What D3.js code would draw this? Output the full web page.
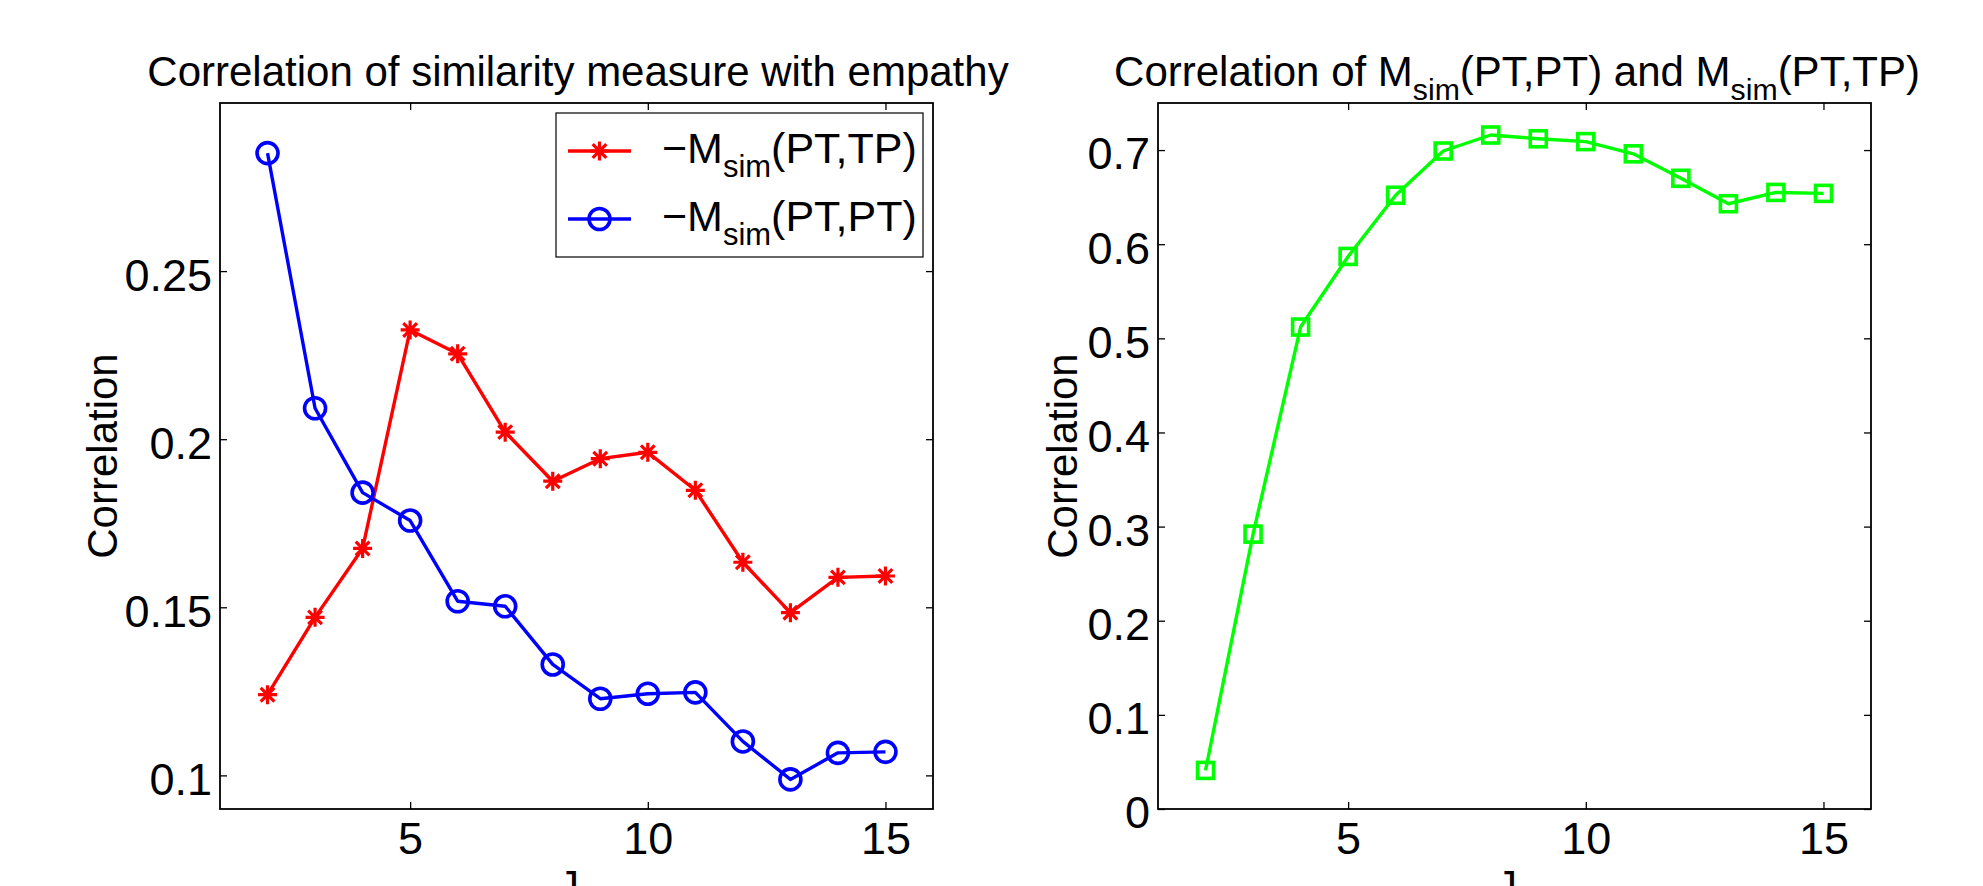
<!DOCTYPE html>
<html>
<head>
<meta charset="utf-8">
<script src="https://cdn.jsdelivr.net/npm/d3@7"></script>
<style>
body { margin: 0; background: #fff; }
svg text { font-family: "Liberation Sans", Arial, Helvetica, sans-serif; fill: #000; }
</style>
</head>
<body>
<svg id="fig" width="1983" height="886"></svg>
<script>
// J values (x axis) shared by both panels
var jValues = [2, 3, 4, 5, 6, 7, 8, 9, 10, 11, 12, 13, 14, 15];

// left panel: -M_sim(PT,TP) and -M_sim(PT,PT) correlation with empathy
var tpCorr = [0.124, 0.147, 0.1675, 0.2325, 0.2254, 0.2021, 0.1875, 0.1942, 0.1961, 0.1848, 0.1634, 0.1484, 0.1589, 0.1593];
var ptCorr = [0.2851, 0.2092, 0.1841, 0.1758, 0.1518, 0.1503, 0.133, 0.1228, 0.1243, 0.1247, 0.1101, 0.0988, 0.1067, 0.107];

// right panel: correlation of M_sim(PT,PT) and M_sim(PT,TP)
var crossCorr = [0.041, 0.292, 0.512, 0.587, 0.652, 0.699, 0.716, 0.712, 0.709, 0.696, 0.670, 0.643, 0.655, 0.654];

var xTicks = [5, 10, 15];
var leftYTicks = [0.1, 0.15, 0.2, 0.25];
var rightYTicks = [0, 0.1, 0.2, 0.3, 0.4, 0.5, 0.6, 0.7];

d3.select(window).on('load', init);

function init() {
    var svg = d3.select('#fig');
    svg.append('rect').attr('width', 1983).attr('height', 886).attr('fill', '#fff');

    var left = panel(svg, {
        x0: 220, x1: 933, y0: 103, y1: 809,
        xDomain: [1, 16], yDomain: [0.09, 0.3],
        yTicks: leftYTicks
    });
    var right = panel(svg, {
        x0: 1158, x1: 1871, y0: 103, y1: 809,
        xDomain: [1, 16], yDomain: [0, 0.75],
        yTicks: rightYTicks
    });

    // titles
    svg.append('text')
        .attr('x', 578).attr('y', 86)
        .attr('text-anchor', 'middle')
        .attr('font-size', 42)
        .text('Correlation of similarity measure with empathy');

    var t2 = svg.append('text')
        .attr('x', 1517).attr('y', 86)
        .attr('text-anchor', 'middle')
        .attr('font-size', 42);
    withSub(t2, ['Correlation of M', 'sim', '(PT,PT) and M', 'sim', '(PT,TP)']);

    // axis labels (the J sits partly below the figure edge, as in the source)
    [left, right].forEach(function (p, i) {
        svg.append('text')
            .attr('transform', 'translate(' + (i === 0 ? 117 : 1077) + ',' + ((p.y0 + p.y1) / 2) + ') rotate(-90)')
            .attr('text-anchor', 'middle')
            .attr('font-size', 42)
            .text('Correlation');
        svg.append('text')
            .attr('x', (p.x0 + p.x1) / 2 - 8).attr('y', 900)
            .attr('text-anchor', 'middle')
            .attr('font-size', 42)
            .text('J');
    });

    // series
    drawSeries(left, tpCorr, '#ff0000', 'star');
    drawSeries(left, ptCorr, '#0000ff', 'circle');
    drawSeries(right, crossCorr, '#00ff00', 'square');

    // legend (left panel)
    var lg = svg.append('g');
    lg.append('rect')
        .attr('x', 556).attr('y', 113).attr('width', 367).attr('height', 144)
        .attr('fill', '#fff').attr('stroke', '#000').attr('stroke-width', 1.2);
    var entries = [
        {label: ['\u2212M', 'sim', '(PT,TP)'], color: '#ff0000', shape: 'star', y: 151},
        {label: ['\u2212M', 'sim', '(PT,PT)'], color: '#0000ff', shape: 'circle', y: 219}
    ];
    entries.forEach(function (e) {
        lg.append('line')
            .attr('x1', 568).attr('x2', 631).attr('y1', e.y).attr('y2', e.y)
            .attr('stroke', e.color).attr('stroke-width', 3.4);
        marker(lg, 599.5, e.y, e.color, e.shape);
        var t = lg.append('text')
            .attr('x', 662).attr('y', e.y + 12)
            .attr('font-size', 43);
        withSub(t, e.label);
    });
}

function withSub(textSel, parts) {
    var big = +textSel.attr('font-size');
    parts.forEach(function (s, i) {
        var ts = textSel.append('tspan').text(s);
        if (i % 2 === 1) {
            ts.attr('font-size', big * 0.72).attr('dy', 14);
        } else if (i > 0) {
            ts.attr('font-size', big).attr('dy', -14);
        }
    });
}

function panel(svg, o) {
    var x = d3.scaleLinear().domain(o.xDomain).range([o.x0, o.x1]);
    var y = d3.scaleLinear().domain(o.yDomain).range([o.y1, o.y0]);
    var g = svg.append('g');

    function styleAxis(a) {
        a.attr('font-size', 45)
            .attr('font-family', '"Liberation Sans", Arial, Helvetica, sans-serif');
        a.select('.domain').remove();
        a.selectAll('.tick line').attr('stroke', '#000').attr('stroke-width', 1.3);
    }

    g.append('g').attr('transform', 'translate(0,' + o.y1 + ')')
        .call(d3.axisBottom(x).tickValues(xTicks).tickSize(-7).tickPadding(13).tickFormat(d3.format('d')))
        .call(styleAxis)
        .selectAll('text').attr('dy', '0.71em');
    g.append('g').attr('transform', 'translate(0,' + o.y0 + ')')
        .call(d3.axisTop(x).tickValues(xTicks).tickSize(-7).tickFormat(''))
        .call(styleAxis);
    g.append('g').attr('transform', 'translate(' + o.x0 + ',0)')
        .call(d3.axisLeft(y).tickValues(o.yTicks).tickSize(-7).tickPadding(8).tickFormat(function (d) { return String(+d.toFixed(2)); }))
        .call(styleAxis)
        .selectAll('text').attr('dy', '0.42em');
    g.append('g').attr('transform', 'translate(' + o.x1 + ',0)')
        .call(d3.axisRight(y).tickValues(o.yTicks).tickSize(-7).tickFormat(''))
        .call(styleAxis);

    g.append('rect')
        .attr('x', o.x0).attr('y', o.y0)
        .attr('width', o.x1 - o.x0).attr('height', o.y1 - o.y0)
        .attr('fill', 'none').attr('stroke', '#000').attr('stroke-width', 1.8);

    return {x: x, y: y, g: g, x0: o.x0, x1: o.x1, y0: o.y0, y1: o.y1};
}

function drawSeries(p, values, color, shape) {
    var pts = jValues.map(function (j, i) { return [j, values[i]]; });
    var line = d3.line()
        .x(function (d) { return p.x(d[0]); })
        .y(function (d) { return p.y(d[1]); });
    p.g.append('path')
        .datum(pts)
        .attr('d', line)
        .attr('fill', 'none')
        .attr('stroke', color)
        .attr('stroke-width', 3.4)
        .attr('stroke-linejoin', 'round');
    pts.forEach(function (d) {
        marker(p.g, p.x(d[0]), p.y(d[1]), color, shape);
    });
}

function marker(g, cx, cy, color, shape) {
    if (shape === 'circle') {
        g.append('circle')
            .attr('cx', cx).attr('cy', cy).attr('r', 10.5)
            .attr('fill', 'none').attr('stroke', color).attr('stroke-width', 3.6);
    } else if (shape === 'square') {
        g.append('rect')
            .attr('x', cx - 8).attr('y', cy - 8).attr('width', 16).attr('height', 16)
            .attr('fill', 'none').attr('stroke', color).attr('stroke-width', 3.6);
    } else {
        var r = 9.5, q = r * 0.72;
        var d = 'M' + (cx - r) + ',' + cy + 'L' + (cx + r) + ',' + cy +
            'M' + cx + ',' + (cy - r) + 'L' + cx + ',' + (cy + r) +
            'M' + (cx - q) + ',' + (cy - q) + 'L' + (cx + q) + ',' + (cy + q) +
            'M' + (cx - q) + ',' + (cy + q) + 'L' + (cx + q) + ',' + (cy - q);
        g.append('path').attr('d', d)
            .attr('fill', 'none').attr('stroke', color).attr('stroke-width', 3.2);
    }
}
</script>
</body>
</html>
